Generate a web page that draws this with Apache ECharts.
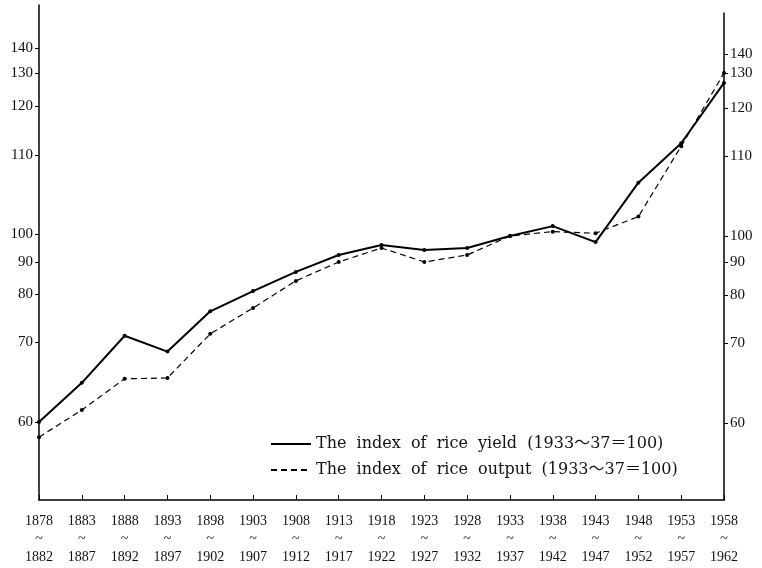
<!DOCTYPE html>
<html>
<head>
<meta charset="utf-8">
<script src="https://cdn.jsdelivr.net/npm/echarts@6/dist/echarts.min.js"></script>
<style>
  html, body { margin: 0; padding: 0; background: #fff; }
  #main { width: 762px; height: 568px; }
</style>
</head>
<body>
<div id="main"></div>
<script>
// 5-year periods
const periodStart = ['1878', '1883', '1888', '1893', '1898', '1903', '1908', '1913', '1918',
  '1923', '1928', '1933', '1938', '1943', '1948', '1953', '1958'];
const periodEnd = ['1882', '1887', '1892', '1897', '1902', '1907', '1912', '1917', '1922',
  '1927', '1932', '1937', '1942', '1947', '1952', '1957', '1962'];

// index values (1933~37 = 100)
const yieldIndex = [60, 64.9, 71.3, 68.8, 76.4, 80.9, 86.9, 92.5, 96.1,
  94.3, 95, 99.3, 101, 97.1, 106.5, 112.4, 127];
const outputIndex = [58.1, 61.5, 65.4, 65.5, 71.7, 77.1, 84.1, 90, 95,
  90, 92.5, 99.3, 100.3, 100.1, 102.2, 111.8, 130];

// tick labels of the (irregular) vertical scale
const tickLabels = [60, 70, 80, 90, 100, 110, 120, 130, 140];

// the printed scale is not linear: where each tick sits (px above the x axis)
const leftTickAt = [78, 158, 206, 238, 266, 345, 394, 427, 452];
const rightTickAt = [77, 157, 205, 238, 264, 344, 392, 427, 446];

const yieldName = 'The  index  of  rice  yield  (1933～37＝100)';
const outputName = 'The  index  of  rice  output  (1933～37＝100)';

// piecewise linear mapping index -> axis position
function toAxis(v) {
  const t = tickLabels, p = leftTickAt;
  let i = 0;
  if (v <= t[0]) i = 0;
  else if (v >= t[t.length - 1]) i = t.length - 2;
  else while (v > t[i + 1]) i++;
  return p[i] + (v - t[i]) * (p[i + 1] - p[i]) / (t[i + 1] - t[i]);
}

function labelFor(pos, positions) {
  const i = positions.indexOf(pos);
  return i >= 0 ? String(tickLabels[i]) : '';
}

const serif = '"Liberation Serif", "DejaVu Serif", "Noto Sans CJK JP", serif';
const wideSerif = '"DejaVu Serif", "Liberation Serif", "Noto Sans CJK JP", serif';

const chart = echarts.init(document.getElementById('main'), null, { renderer: 'canvas' });

const option = {
  backgroundColor: '#fff',
  animation: false,
  grid: [
    { left: 39, right: 38, top: 5, bottom: 68 },
    { left: 39, right: 38, top: 13, bottom: 68 }
  ],
  legend: {
    orient: 'vertical',
    left: 265,
    top: 431,
    itemWidth: 40,
    itemHeight: 14,
    itemGap: 10,
    itemStyle: { opacity: 0 },
    textStyle: { fontFamily: wideSerif, fontSize: 16, color: '#111' },
    data: [yieldName, outputName]
  },
  xAxis: [
    {
      type: 'category',
      gridIndex: 0,
      data: periodStart,
      boundaryGap: false,
      axisLine: { lineStyle: { color: '#000', width: 1.5 } },
      axisTick: { inside: true, length: 5, lineStyle: { color: '#000' } },
      axisLabel: {
        margin: 12,
        fontFamily: serif,
        fontSize: 14,
        lineHeight: 18,
        color: '#111',
        interval: 0,
        formatter: (val, idx) => val + '\n~\n' + periodEnd[idx]
      }
    },
    { type: 'category', gridIndex: 1, data: periodStart, boundaryGap: false, show: false }
  ],
  yAxis: [
    {
      type: 'value',
      gridIndex: 0,
      position: 'left',
      min: 0,
      max: 495,
      splitLine: { show: false },
      axisLine: { show: true, lineStyle: { color: '#000', width: 1.5 } },
      axisTick: { show: true, length: 4, customValues: leftTickAt, lineStyle: { color: '#000' } },
      axisLabel: {
        margin: 6,
        fontFamily: serif,
        fontSize: 15,
        color: '#111',
        customValues: leftTickAt,
        formatter: v => labelFor(v, leftTickAt)
      }
    },
    {
      type: 'value',
      gridIndex: 1,
      position: 'right',
      min: 0,
      max: 487,
      splitLine: { show: false },
      axisLine: { show: true, lineStyle: { color: '#000', width: 1.5 } },
      axisTick: { show: true, length: 4, customValues: rightTickAt, lineStyle: { color: '#000' } },
      axisLabel: {
        margin: 6,
        fontFamily: serif,
        fontSize: 15,
        color: '#111',
        customValues: rightTickAt,
        formatter: v => labelFor(v, rightTickAt)
      }
    }
  ],
  series: [
    {
      name: yieldName,
      type: 'line',
      xAxisIndex: 0,
      yAxisIndex: 0,
      data: yieldIndex.map(toAxis),
      symbol: 'circle',
      symbolSize: 4,
      itemStyle: { color: '#000' },
      lineStyle: { color: '#000', width: 2 }
    },
    {
      name: outputName,
      type: 'line',
      xAxisIndex: 0,
      yAxisIndex: 0,
      data: outputIndex.map(toAxis),
      symbol: 'circle',
      symbolSize: 4,
      itemStyle: { color: '#000' },
      lineStyle: { color: '#000', width: 1.2, type: [6, 4] }
    }
  ]
};

chart.setOption(option);
</script>
</body>
</html>
